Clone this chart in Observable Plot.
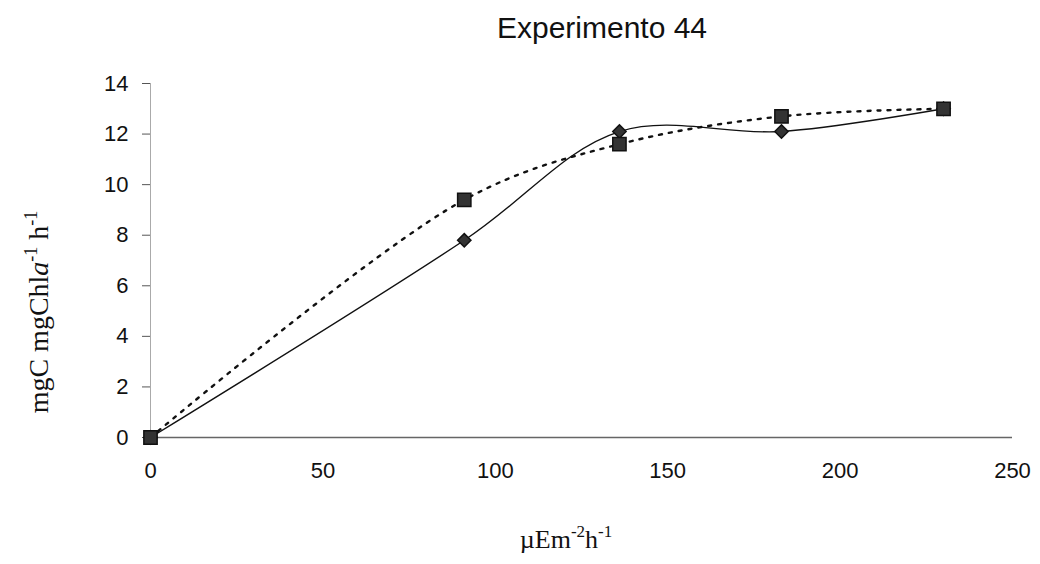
<!DOCTYPE html>
<html>
<head>
<meta charset="utf-8">
<script src="https://cdn.jsdelivr.net/npm/d3@7"></script>
<script src="https://cdn.jsdelivr.net/npm/@observablehq/plot@0.6"></script>
<style>
  body { margin: 0; background: #fff; }
  #title { position: relative; width: 1040px; height: 60px; font: 30px "Liberation Sans", Arial, sans-serif; color: #111; }
  #title span { position: absolute; left: 602px; top: 13px; transform: translateX(-50%); line-height: 30px; white-space: nowrap; }
</style>
</head>
<body>
<div id="title"><span>Experimento 44</span></div>
<div id="chart"></div>
<script>
// Irradiance (µE m-2 h-1) and the two production series
const irradiance = [0, 91, 136, 183, 230];
const solidSeries = [0, 7.8, 12.1, 12.1, 13.0];   // diamonds, smooth solid line
const dottedSeries = [0, 9.4, 11.6, 12.7, 13.0];  // squares, dotted line
const xTicks = [0, 50, 100, 150, 200, 250];
const yTicks = [0, 2, 4, 6, 8, 10, 12, 14];

const rows = irradiance.map((x, i) => ({x, a: solidSeries[i], b: dottedSeries[i]}));

const chart = Plot.plot({
  width: 1040,
  height: 504,
  marginLeft: 150,
  marginRight: 28,
  marginTop: 23,
  marginBottom: 127,
  style: {fontFamily: '"Liberation Sans", Arial, sans-serif', fontSize: "22px", color: "#111", background: "white"},
  x: {domain: [0, 250]},
  y: {domain: [0, 14]},
  marks: [
    Plot.ruleX([0], {stroke: "#aaa", strokeWidth: 1}),
    Plot.ruleY([0], {stroke: "#666", strokeWidth: 1.5}),
    Plot.axisY(yTicks, {tickSize: 8, tickPadding: 14, stroke: "#555", label: null, fontSize: 22}),
    Plot.axisX(xTicks, {tickSize: 0, tickPadding: 25, label: null, fontSize: 22}),
    Plot.line(rows, {x: "x", y: "b", curve: "catmull-rom", stroke: "#111", strokeWidth: 2.4, strokeDasharray: "3,7"}),
    Plot.line(rows, {x: "x", y: "a", curve: "catmull-rom", stroke: "#111", strokeWidth: 1.4}),
    Plot.dot(rows, {x: "x", y: "a", symbol: "diamond2", r: 6, fill: "#333", stroke: "#111"}),
    Plot.dot(rows, {x: "x", y: "b", symbol: "square", r: 7.5, fill: "#333", stroke: "#111"})
  ]
});

document.getElementById("chart").append(chart);

// Axis titles with superscripts, set in a serif face
const svg = d3.select(chart);
const serif = '"Liberation Serif", "Times New Roman", serif';

const yLabel = svg.append("text")
  .attr("transform", "translate(48,252) rotate(-90)")
  .attr("text-anchor", "middle")
  .style("font-family", serif)
  .style("font-size", "28px")
  .attr("fill", "#111");
yLabel.append("tspan").text("mgC mgChl");
yLabel.append("tspan").style("font-style", "italic").text("a");
yLabel.append("tspan").attr("dy", -11).style("font-size", "18px").text("-1");
yLabel.append("tspan").attr("dy", 11).text(" h");
yLabel.append("tspan").attr("dy", -11).style("font-size", "18px").text("-1");

const xLabel = svg.append("text")
  .attr("x", 566)
  .attr("y", 488)
  .attr("text-anchor", "middle")
  .style("font-family", serif)
  .style("font-size", "26px")
  .attr("fill", "#111");
xLabel.append("tspan").text("µEm");
xLabel.append("tspan").attr("dy", -11).style("font-size", "17px").text("-2");
xLabel.append("tspan").attr("dy", 11).text("h");
xLabel.append("tspan").attr("dy", -11).style("font-size", "17px").text("-1");
</script>
</body>
</html>
